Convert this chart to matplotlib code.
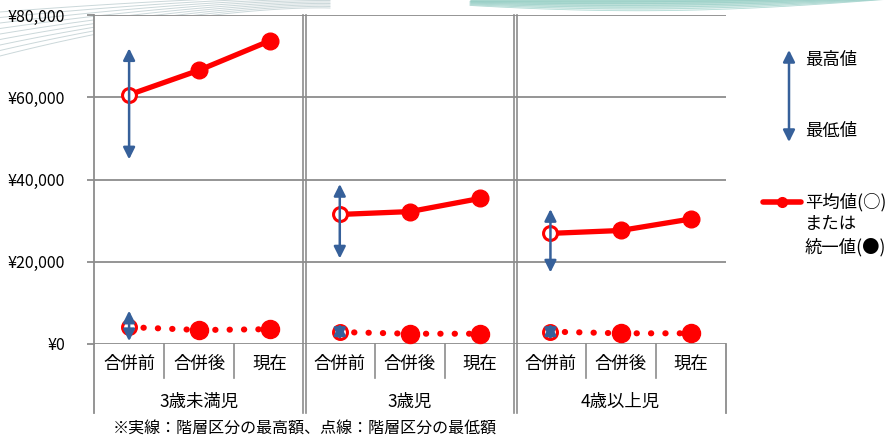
import numpy as np
import matplotlib
matplotlib.use("Agg")
import matplotlib.pyplot as plt
from matplotlib.lines import Line2D

plt.rcParams['font.family'] = ['Noto Sans CJK JP', 'DejaVu Sans']

# data
groups = ['3歳未満児', '3歳児', '4歳以上児']
periods = ['合併前', '合併後', '現在']

# 実線: 階層区分の最高額 (平均値 / 統一値)
high_avg = [[60600, 66600, 73700],
            [31500, 32200, 35400],
            [26900, 27600, 30400]]
# 合併前の範囲 (最低値, 最高値)
high_range = [(44900, 71900), (20800, 38900), (17400, 32800)]

# 点線: 階層区分の最低額
low_avg = [[4100, 3400, 3600],
           [2900, 2500, 2500],
           [3000, 2600, 2600]]
low_range = [(700, 8100), (1000, 5000), (1000, 5000)]

RED = '#FF0000'
BLUE = '#36609A'
GRID = '#8C8C8C'

fig = plt.figure(figsize=(8.92, 4.41), dpi=100)

# slide background decoration
bg = fig.add_axes([0, 0, 1, 1], zorder=-5)
bg.set_xlim(0, 892)
bg.set_ylim(441, 0)
bg.axis('off')
t = np.linspace(0, 1, 60)
for k in range(9):
    xs = 330 * t
    ys = (16 + 5.5 * k) * (1 - t) ** 1.6 - 4 + 1.5 * k * t
    bg.plot(xs, ys, color='#b5c7ca', lw=0.7, alpha=0.7)
# teal swoosh top right
xs = 470 + 422 * t
upper = -2 + 0 * t
for k in range(8):
    lower = (2 + 1.4 * k) * np.sin(np.pi * (0.15 + 0.8 * t)) - 3 * t
    bg.fill_between(xs, upper, lower, color='#5db8a6', alpha=0.09, lw=0)
for k in range(6):
    ys = (3 + 1.8 * k) * np.sin(np.pi * (0.15 + 0.8 * t)) - 3 * t
    bg.plot(xs, ys, color='#8cc8c0', lw=0.6, alpha=0.6)

ax = fig.add_axes([94 / 892, (441 - 344) / 441, (726 - 94) / 892, 329 / 441])
ax.set_xlim(0, 9)
ax.set_ylim(0, 80000)

yticks = [0, 20000, 40000, 60000, 80000]
ax.set_yticks(yticks)
ax.set_yticklabels(['¥{:,}'.format(v) for v in yticks], fontsize=11.5)
for v in yticks:
    ax.axhline(v, color=GRID, lw=1.3, zorder=1)
for s in ['top', 'right', 'bottom']:
    ax.spines[s].set_visible(False)
ax.spines['left'].set_color(GRID)
ax.spines['left'].set_linewidth(1.3)
ax.tick_params(axis='y', length=5, color=GRID, width=1.3, pad=16)

centers = np.arange(9) + 0.5
ax.set_xticks(centers)
ax.set_xticklabels(periods * 3, fontsize=12.5)
ax.tick_params(axis='x', length=0, pad=8)

tr = ax.get_xaxis_transform()
# category dividers under the axis
for x in [1, 2, 4, 5, 7, 8]:
    ax.add_line(Line2D([x, x], [0, -0.103], transform=tr, color=GRID, lw=1.2, clip_on=False))
ax.add_line(Line2D([0, 0], [0, -0.21], transform=tr, color=GRID, lw=1.3, clip_on=False))
ax.add_line(Line2D([9, 9], [0, -0.21], transform=tr, color=GRID, lw=1.3, clip_on=False))
# group separators (double lines)
for x in [3, 6]:
    for dx in [-0.022, 0.022]:
        ax.add_line(Line2D([x + dx, x + dx], [1, -0.21], transform=tr, color=GRID, lw=1.2, clip_on=False))

for g, name in enumerate(groups):
    ax.text(3 * g + 1.5, -0.176, name, transform=tr, ha='center', va='center', fontsize=12.5)

for g in range(3):
    xs = centers[3 * g:3 * g + 3]
    # solid (high) line
    ax.plot(xs, high_avg[g], color=RED, lw=3.8, solid_capstyle='round', zorder=3)
    ax.plot(xs[1:], high_avg[g][1:], 'o', color=RED, ms=12, zorder=4)
    ax.plot(xs[0], high_avg[g][0], 'o', mfc='white', mec=RED, mew=2.2, ms=10, zorder=4)
    # dotted (low) line
    ax.plot(xs, low_avg[g], color=RED, lw=4.4, linestyle=(0, (0.05, 2.3)),
            dash_capstyle='round', zorder=3)
    ax.plot(xs[1:], low_avg[g][1:], 'o', color=RED, ms=13, zorder=4)
    ax.plot(xs[0], low_avg[g][0], 'o', mfc='white', mec=RED, mew=2.2, ms=10, zorder=4)
    # min / max arrows
    for lo, hi in [high_range[g], low_range[g]]:
        ax.annotate('', xy=(xs[0], hi), xytext=(xs[0], lo),
                    arrowprops=dict(arrowstyle='<|-|>,head_length=0.7,head_width=0.35',
                                    color=BLUE, lw=1.8, shrinkA=0, shrinkB=0),
                    zorder=5)

# legend
bg.annotate('', xy=(789, 50), xytext=(789, 142),
            arrowprops=dict(arrowstyle='<|-|>,head_length=0.7,head_width=0.35',
                            color=BLUE, lw=1.8, shrinkA=0, shrinkB=0))
bg.text(805, 60, '最高値', fontsize=12.5, va='center', ha='left')
bg.text(805, 131, '最低値', fontsize=12.5, va='center', ha='left')
bg.plot([763, 801], [202, 202], color=RED, lw=4, solid_capstyle='round')
bg.plot([782], [202], 'o', color=RED, ms=7)
bg.text(805, 202, '平均値(○)', fontsize=12.5, va='center', ha='left')
bg.text(805, 224, 'または', fontsize=12.5, va='center', ha='left')
bg.text(805, 247, '統一値(●)', fontsize=12.5, va='center', ha='left')

bg.text(113, 428, '※実線：階層区分の最高額、点線：階層区分の最低額', fontsize=11.5, va='center', ha='left')

fig.savefig('out.png', dpi=100)
